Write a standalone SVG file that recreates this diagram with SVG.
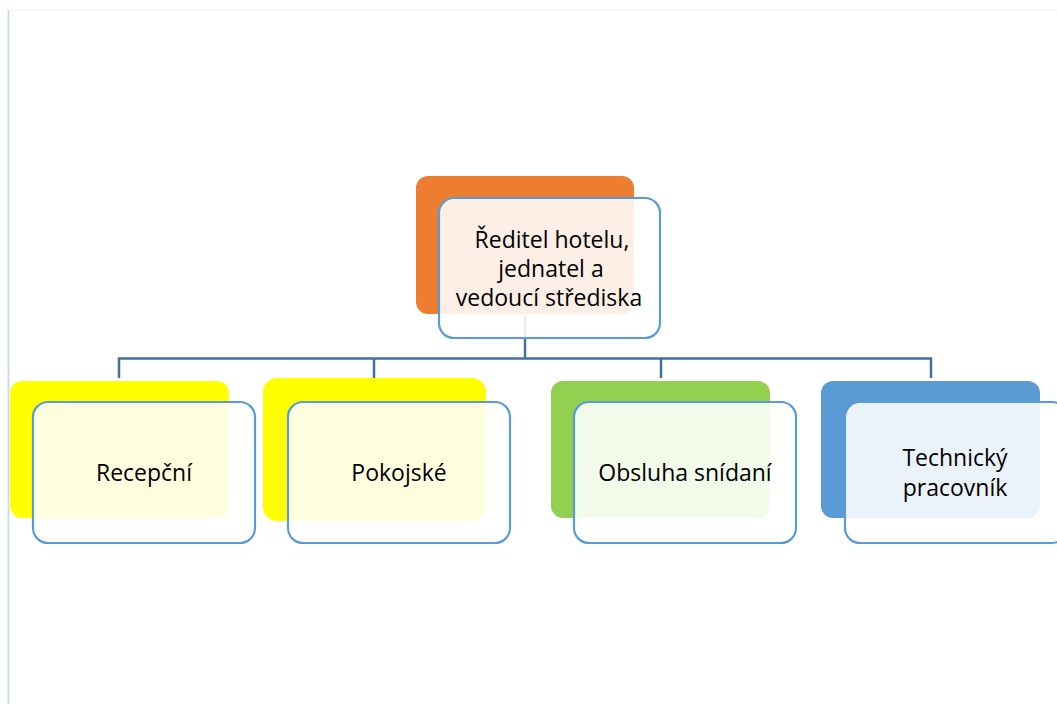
<svg xmlns="http://www.w3.org/2000/svg" width="1057" height="704" viewBox="0 0 1057 704">
<style>
.back{stroke:none}
.front{fill:#ffffff;fill-opacity:0.88;stroke:#5b9bd5;stroke-width:2.2}
.lbl{font-family:"Open Sans","Liberation Sans",sans-serif;font-size:23px;fill:#000;text-anchor:middle}
.conn{fill:none;stroke:#41719c;stroke-width:2.5}
</style>
<rect x="0" y="0" width="1057" height="704" fill="#ffffff"/>
<line x1="8" y1="10.5" x2="1057" y2="10.5" stroke="#f1f3f6" stroke-width="1.2"/>
<line x1="8.5" y1="10" x2="8.5" y2="704" stroke="#c9dbee" stroke-width="1.8"/>
<g id="connectors">
<path class="conn" d="M525 316 V358.5 M119 378 V358.5 H931 V378 M374 358.5 V378 M661 358.5 V378"/>
</g>
<g id="node-top">
<rect class="back" x="416" y="176" width="218" height="138" rx="12" fill="#ed7d31"/>
<rect class="front" x="439" y="198" width="221" height="140" rx="15"/>
<text class="lbl" x="552" y="248">Ředitel hotelu,</text>
<text class="lbl" x="551" y="277">jednatel a</text>
<text class="lbl" x="549" y="306">vedoucí střediska</text>
</g>
<g id="node-recepcni">
<rect class="back" x="10" y="381" width="219" height="137" rx="12" fill="#ffff00"/>
<rect class="front" x="33" y="402" width="222" height="141" rx="15"/>
<text class="lbl" x="144" y="481">Recepční</text>
</g>
<g id="node-pokojske">
<rect class="back" x="263" y="378" width="223" height="143" rx="14" fill="#ffff00"/>
<rect class="front" x="288" y="402" width="222" height="141" rx="15"/>
<text class="lbl" x="399" y="481">Pokojské</text>
</g>
<g id="node-obsluha">
<rect class="back" x="551" y="381" width="219" height="137" rx="12" fill="#92d050"/>
<rect class="front" x="574" y="402" width="222" height="141" rx="15"/>
<text class="lbl" x="685" y="481">Obsluha snídaní</text>
</g>
<g id="node-technicky">
<rect class="back" x="821" y="381" width="219" height="137" rx="12" fill="#5b9bd5"/>
<rect class="front" x="845" y="402" width="222" height="141" rx="15"/>
<text class="lbl" x="955" y="466">Technický</text>
<text class="lbl" x="955" y="496">pracovník</text>
</g>
</svg>
